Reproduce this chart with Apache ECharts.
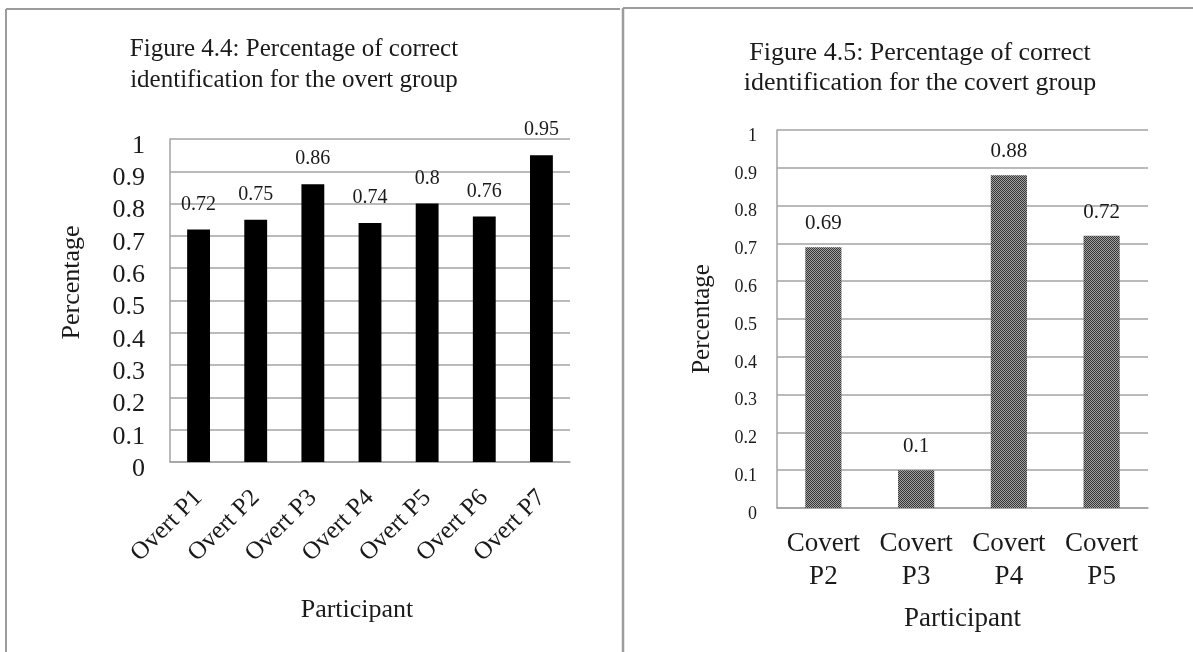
<!DOCTYPE html>
<html>
<head>
<meta charset="utf-8">
<script src="https://cdn.jsdelivr.net/npm/echarts@6/dist/echarts.min.js"></script>
<style>
  html, body { margin: 0; padding: 0; background: #fff; }
  #chart { width: 1193px; height: 652px; }
</style>
</head>
<body>
<div id="chart"></div>
<script>
// Figure 4.4 - overt group
const overtCats = ["Overt P1", "Overt P2", "Overt P3", "Overt P4", "Overt P5", "Overt P6", "Overt P7"];
const overtValues = [0.72, 0.75, 0.86, 0.74, 0.8, 0.76, 0.95];
// Figure 4.5 - covert group
const covertCats = ["Covert\nP2", "Covert\nP3", "Covert\nP4", "Covert\nP5"];
const covertValues = [0.69, 0.1, 0.88, 0.72];
// y axis range
const yMin = 0;
const yMax = 1;
const yStep = 0.1;

const serif = "'Liberation Serif', 'DejaVu Serif', serif";
const gridGray = "#a3a3a3";
const textCol = "#1a1a1a";

// dotted fill like the Excel pattern
function makePattern() {
  let c = document.createElement("canvas");
  c.width = 4;
  c.height = 4;
  let ctx = c.getContext("2d");
  for (let i = 0; i < 4; i++) {
    for (let j = 0; j < 4; j++) {
      ctx.fillStyle = (i + j) % 2 === 0 ? "#363636" : "#a0a0a0";
      ctx.fillRect(i, j, 1, 1);
    }
  }
  return c;
}

let mychart = echarts.init(document.getElementById("chart"));

function valueAxis(idx, fontSize, margin, lh, nameGap, nameSize) {
  return {
    type: "value",
    gridIndex: idx,
    min: yMin,
    max: yMax,
    interval: yStep,
    name: "Percentage",
    nameLocation: "middle",
    nameGap: nameGap,
    nameTextStyle: { fontFamily: serif, fontSize: nameSize, color: textCol },
    axisLine: { show: true, lineStyle: { color: gridGray, width: 1.5 } },
    axisTick: { show: false },
    splitLine: { show: true, lineStyle: { color: gridGray, width: 1.5 } },
    axisLabel: {
      fontFamily: serif,
      fontSize: fontSize,
      color: textCol,
      margin: margin,
      // labels sit a little under their gridline in the original
      verticalAlign: "top",
      lineHeight: lh,
      formatter: (v) => String(+v.toFixed(1)),
    },
  };
}

let yLeft = valueAxis(0, 26, 25, 14, 85, 26);
// Excel puts the left axis title a bit above the plot middle
yLeft.nameTextStyle.padding = [0, 0, 0, 36];
let yRight = valueAxis(1, 18, 20, 12, 62, 25);

let option = {
  animation: false,
  backgroundColor: "#fff",
  title: [
    {
      text: "Figure 4.4: Percentage of correct\nidentification for the overt group",
      left: 289,
      top: 29,
      textAlign: "center",
      textStyle: { fontFamily: serif, fontSize: 25, fontWeight: "normal", color: textCol, lineHeight: 31, align: "center" },
    },
    {
      text: "Figure 4.5: Percentage of correct\nidentification for the covert group",
      left: 915,
      top: 33,
      textAlign: "center",
      textStyle: { fontFamily: serif, fontSize: 26, fontWeight: "normal", color: textCol, lineHeight: 30, align: "center" },
    },
  ],
  grid: [
    { left: 170, top: 139, width: 400, height: 323 },
    { left: 777, top: 130, width: 371, height: 378 },
  ],
  xAxis: [
    {
      type: "category",
      gridIndex: 0,
      data: overtCats,
      name: "Participant",
      nameLocation: "middle",
      nameGap: 135,
      nameTextStyle: { fontFamily: serif, fontSize: 26, color: textCol, padding: [0, 26, 0, 0] },
      axisLine: { lineStyle: { color: gridGray, width: 1.5 } },
      axisTick: { show: false },
      axisLabel: { rotate: 45, fontFamily: serif, fontSize: 25, color: textCol, margin: 32, interval: 0 },
    },
    {
      type: "category",
      gridIndex: 1,
      data: covertCats,
      name: "Participant",
      nameLocation: "middle",
      nameGap: 97,
      nameTextStyle: { fontFamily: serif, fontSize: 27, color: textCol },
      axisLine: { lineStyle: { color: gridGray, width: 1.5 } },
      axisTick: { show: false },
      axisLabel: { fontFamily: serif, fontSize: 27, color: textCol, margin: 19, lineHeight: 33, interval: 0 },
    },
  ],
  yAxis: [yLeft, yRight],
  series: [
    {
      name: "overt",
      type: "bar",
      xAxisIndex: 0,
      yAxisIndex: 0,
      data: overtValues,
      barWidth: "40%",
      itemStyle: { color: "#000" },
      label: { show: true, position: "top", distance: 15, fontFamily: serif, fontSize: 20, color: textCol },
    },
    {
      name: "covert",
      type: "bar",
      xAxisIndex: 1,
      yAxisIndex: 1,
      data: covertValues,
      barWidth: "39%",
      itemStyle: { color: { image: makePattern(), repeat: "repeat" } },
      label: { show: true, position: "top", distance: 13, fontFamily: serif, fontSize: 21, color: textCol },
    },
  ],
  graphic: [
    { type: "line", shape: { x1: 6, y1: 9, x2: 620, y2: 9 }, style: { stroke: "#9c9c9c", lineWidth: 2 } },
    { type: "line", shape: { x1: 6, y1: 9, x2: 6, y2: 652 }, style: { stroke: "#9c9c9c", lineWidth: 2 } },
    { type: "line", shape: { x1: 623, y1: 8, x2: 623, y2: 652 }, style: { stroke: "#9c9c9c", lineWidth: 2.5 } },
    { type: "line", shape: { x1: 623, y1: 8, x2: 1193, y2: 8 }, style: { stroke: "#9c9c9c", lineWidth: 2 } },
  ],
};
mychart.setOption(option);
</script>
</body>
</html>
